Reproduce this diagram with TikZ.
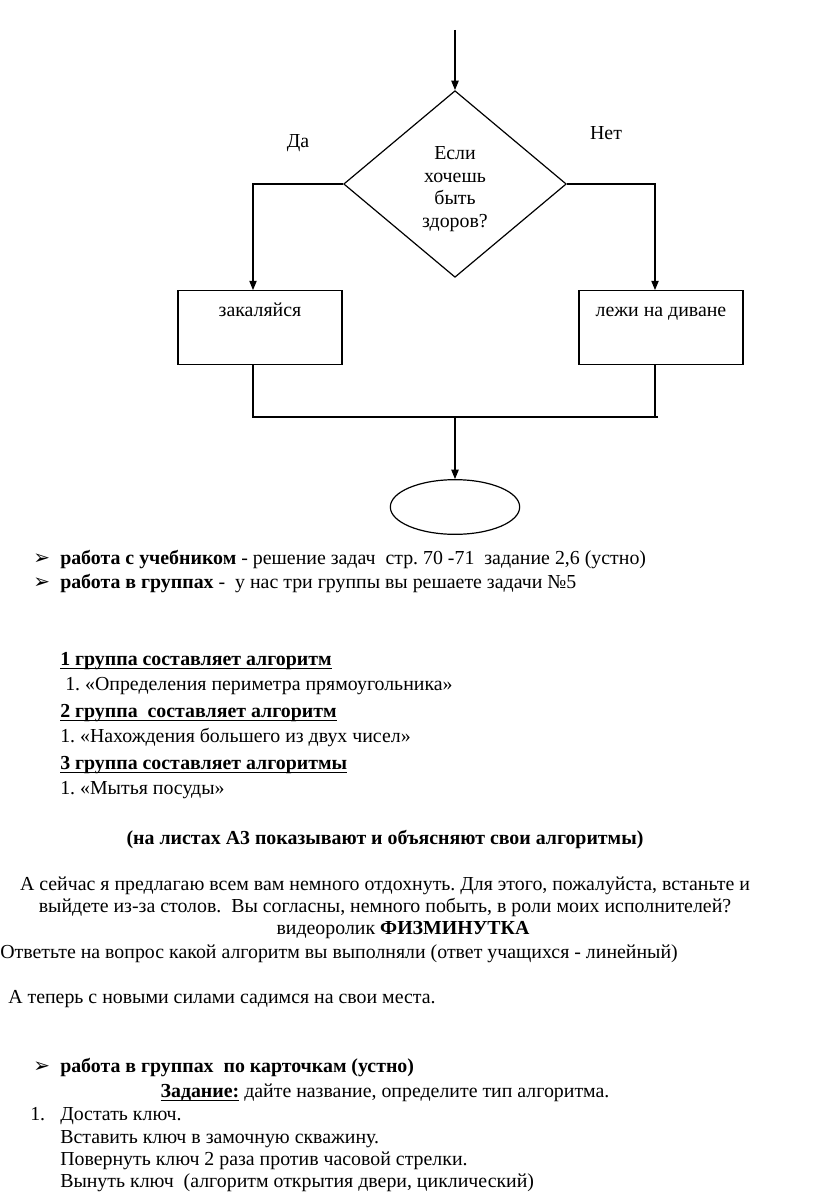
\documentclass[tikz,border=0pt]{standalone}
\usepackage{fontspec}
\setmainfont{Liberation Serif}
\newfontfamily\dingfont{DejaVu Sans}
\usetikzlibrary{positioning,shapes.geometric,arrows.meta}
\frenchspacing
\newcommand\wordul[1]{\setbox0\hbox{#1}\rlap{\rule[-3pt]{\wd0}{1pt}}\box0}

\begin{document}
\begin{tikzpicture}[
    x=0.75pt, y=-0.75pt,
    every node/.style={font=\fontsize{14.9}{17}\selectfont},
    line/.style={line width=0.9pt},
    arrow/.style={line, -{Triangle[length=7pt,width=5.5pt]}},
    decision/.style={diamond, draw, line, minimum width=167pt, minimum height=140pt, inner sep=0pt},
    act/.style={rectangle, draw, line, minimum width=123pt, inner ysep=0pt, text height=19.3pt, text depth=35.9pt},
    term/.style={ellipse, draw, line, minimum width=97pt, minimum height=41pt},
    txt/.style={inner sep=0pt, anchor=base west},
    ctxt/.style={inner sep=0pt, anchor=base},
    bul/.style={txt, font=\dingfont\fontsize{15}{17}\selectfont}
]
\path[use as bounding box] (0,0) rectangle (816,1195);

% flowchart
\coordinate (start) at (455,30);
\node[decision] (cond) at (455,184) {};
\node[align=center, inner sep=0pt] (condtxt) at ([yshift=-3.75pt]cond.center) {Если\\ хочешь\\ быть\\ здоров?};
\node[ctxt] (yeslbl) at (298,147) {Да};
\node[ctxt] (nolbl) at (606,140) {Нет};
\node[act] (yes) at (260,327.5) {закаляйся};
\node[act] (no) at (661,327.5) {лежи на диване};
\coordinate (ybot) at (253,417);
\coordinate (nbot) at (655,417);
\coordinate (join) at (455,417);
\node[term] (stop) at (455,507) {};

\draw[arrow] (start) -- (cond.north);
\draw[arrow] (cond.west) -| (yes.north -| ybot);
\draw[arrow] (cond.east) -| (no.north -| nbot);
\draw[line] (yes.south -| ybot) -- (ybot) -- ([xshift=2.5pt]nbot);
\draw[line] (no.south -| nbot) -- (nbot);
\draw[arrow] (join) -- (stop.north);

% lesson text
\node[bul] (b1) at (33,564) {➢};
\node[txt] (t1) at (60,564) {\textbf{работа с учебником} - решение задач\ \ стр. 70 -71\ \ задание 2,6 (устно)};
\node[bul] (b2) at (33,588) {➢};
\node[txt] (t2) at (60,588) {\textbf{работа в группах} -\ \ у нас три группы вы решаете задачи №5};
\node[txt] (g1) at (60,665) {\textbf{\wordul{1 группа составляет алгоритм}}};
\node[txt] (o1) at (65,690) {1. «Определения периметра прямоугольника»};
\node[txt] (g2) at (60,717) {\textbf{\wordul{2 группа\ \ составляет алгоритм}}};
\node[txt] (o2) at (60,742) {1. «Нахождения большего из двух чисел»};
\node[txt] (g3) at (60,769) {\textbf{\wordul{3 группа составляет алгоритмы}}};
\node[txt] (o3) at (60,794) {1. «Мытья посуды»};
\node[ctxt] (p1) at (385,844) {\textbf{(на листах А3 показывают и объясняют свои алгоритмы)}};
\node[ctxt] (p2) at (385,890) {А сейчас я предлагаю всем вам немного отдохнуть. Для этого, пожалуйста, встаньте и};
\node[ctxt] (p3) at (385,912) {выйдете из-за столов.\ \ Вы согласны, немного побыть, в роли моих исполнителей?};
\node[ctxt] (p4) at (403,934) {видеоролик \textbf{ФИЗМИНУТКА}};
\node[txt] (p5) at (0,958) {Ответьте на вопрос какой алгоритм вы выполняли (ответ учащихся - линейный)};
\node[txt] (p6) at (8,1003) {А теперь с новыми силами садимся на свои места.};
\node[bul] (b3) at (33,1072) {➢};
\node[txt] (t3) at (60,1072) {\textbf{работа в группах\ \ по карточкам (устно)}};
\node[ctxt] (task) at (385,1097) {\textbf{\wordul{Задание:}} дайте название, определите тип алгоритма.};
\node[txt] (n1) at (30,1120) {1.};
\node[txt] (s1) at (60,1120) {Достать ключ.};
\node[txt] (s2) at (60,1143) {Вставить ключ в замочную скважину.};
\node[txt] (s3) at (60,1165) {Повернуть ключ 2 раза против часовой стрелки.};
\node[txt] (s4) at (60,1187) {Вынуть ключ\ \ (алгоритм открытия двери, циклический)};
\end{tikzpicture}
\end{document}
